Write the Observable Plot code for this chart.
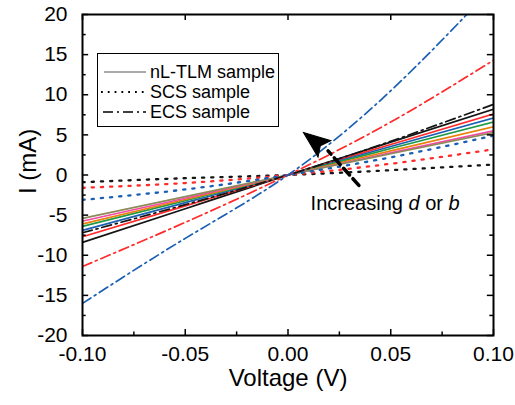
<!DOCTYPE html>
<html><head><meta charset="utf-8">
<script src="https://cdn.jsdelivr.net/npm/d3@7"></script>
<script src="https://cdn.jsdelivr.net/npm/@observablehq/plot@0.6"></script>
<style>
body{margin:0;background:#fff;}
#wrap{position:relative;width:515px;height:405px;font-family:"Liberation Sans",Arial,sans-serif;color:#000;}
#legend{position:absolute;left:97px;top:53px;width:182px;height:74px;border:1px solid #000;background:#fff;box-sizing:border-box;}
#legend .row{position:absolute;left:0;height:20px;display:flex;align-items:center;font-size:18px;white-space:nowrap;}
#legend svg{margin-right:2px;}
</style></head><body><div id="wrap"></div>
<script>
// Voltage sample points (V)
const voltage = [-0.10, -0.05, 0, 0.05, 0.10];
// nL-TLM samples (solid), current in mA
const nlBlack  = [-8.4, -4.2, 0, 4.1, 8.2];
const nlRed    = [-7.7, -3.85, 0, 3.8, 7.6];
const nlBlue   = [-6.9, -3.45, 0, 3.55, 7.1];
const nlGreen  = [-6.4, -3.2, 0, 3.3, 6.6];
const nlOrange = [-6.1, -3.05, 0, 3.0, 6.0];
const nlPink   = [-5.75, -2.9, 0, 2.75, 5.5];
const nlOlive  = [-5.4, -2.7, 0, 2.65, 5.3];
// SCS samples (dotted)
const scsBlack = [-0.9, -0.4, 0, 0.6, 1.3];
const scsRed   = [-1.6, -1.0, 0, 1.4, 3.2];
const scsBlue  = [-3.1, -1.8, 0, 2.2, 4.9];
// ECS samples (dash-dot)
const ecsBlack = [-7.2, -3.7, 0, 4.2, 8.8];
const ecsRed   = [-11.4, -5.9, 0, 6.6, 14.3];
const ecsBlue  = [-16.0, -7.9, 0, 10.5, 23.5];

const xTicks = [-0.10, -0.05, 0, 0.05, 0.10];
const xMinor = [-0.075, -0.025, 0.025, 0.075];
const yTicks = [-20, -15, -10, -5, 0, 5, 10, 15, 20];
const yMinor = [-17.5, -12.5, -7.5, -2.5, 2.5, 7.5, 12.5, 17.5];

const legendLabels = ["nL-TLM sample", "SCS sample", "ECS sample"];
const annotation = "Increasing <i>d</i> or <i>b</i>";
const arrowLine = [{V: 0.0345, I: -1.3}, {V: 0.0195, I: 3.0}];
const arrowHeadPt = [{V: 0.0135, I: 4.1}];

const series = [
  {id: "nlBlack", kind: "solid", color: "#151515", values: nlBlack},
  {id: "nlRed", kind: "solid", color: "#ff2a2a", values: nlRed},
  {id: "nlBlue", kind: "solid", color: "#1a5fb4", values: nlBlue},
  {id: "nlGreen", kind: "solid", color: "#1f9a45", values: nlGreen},
  {id: "nlOrange", kind: "solid", color: "#e8820c", values: nlOrange},
  {id: "nlPink", kind: "solid", color: "#f447a6", values: nlPink},
  {id: "nlOlive", kind: "solid", color: "#8d8a5a", values: nlOlive},
  {id: "scsBlack", kind: "dot", color: "#151515", values: scsBlack},
  {id: "scsRed", kind: "dot", color: "#ff2a2a", values: scsRed},
  {id: "scsBlue", kind: "dot", color: "#1a5fb4", values: scsBlue},
  {id: "ecsBlack", kind: "dashdot", color: "#151515", values: ecsBlack},
  {id: "ecsRed", kind: "dashdot", color: "#ff2a2a", values: ecsRed},
  {id: "ecsBlue", kind: "dashdot", color: "#1a5fb4", values: ecsBlue}
];
const rows = series.flatMap(s => s.values.map((I, k) => ({id: s.id, kind: s.kind, color: s.color, V: voltage[k], I})));
const rowsOf = kind => rows.filter(r => r.kind === kind);

const lineOpts = {x: "V", y: "I", z: "id", stroke: "color", curve: "natural", clip: true};

// barbed arrowhead symbol (tip pointing up before rotation)
const arrowSymbol = {
  draw(context, size) {
    const s = Math.sqrt(size / Math.PI);
    context.moveTo(0, -1.2 * s);
    context.lineTo(0.8 * s, 0.85 * s);
    context.lineTo(0, 0.45 * s);
    context.lineTo(-0.8 * s, 0.85 * s);
    context.closePath();
  }
};

const plot = Plot.plot({
  width: 515, height: 405,
  marginLeft: 82, marginRight: 22, marginTop: 14, marginBottom: 70,
  style: {fontFamily: "Liberation Sans, Arial, sans-serif", background: "#fff", color: "#000"},
  x: {domain: [-0.1, 0.1], label: null},
  y: {domain: [-20, 20], label: null},
  color: {type: "identity"},
  marks: [
    Plot.line(rowsOf("solid"), {...lineOpts, strokeWidth: 1.7}),
    Plot.line(rowsOf("dot"), {...lineOpts, strokeWidth: 2.3, strokeDasharray: "2.2,7"}),
    Plot.line(rowsOf("dashdot"), {...lineOpts, strokeWidth: 1.7, strokeDasharray: "10,4,2,4"}),
    // ticks (inward, mirrored)
    Plot.ruleX(xTicks, {x: d => d, y1: -20, y2: -19.25, stroke: "#000", strokeWidth: 1.5}),
    Plot.ruleX(xMinor, {x: d => d, y1: -20, y2: -19.55, stroke: "#000", strokeWidth: 1.5}),
    Plot.ruleX(xTicks, {x: d => d, y1: 20, y2: 19.25, stroke: "#000", strokeWidth: 1.5}),
    Plot.ruleY(yTicks, {y: d => d, x1: -0.1, x2: -0.097, stroke: "#000", strokeWidth: 1.5}),
    Plot.ruleY(yMinor, {y: d => d, x1: -0.1, x2: -0.0982, stroke: "#000", strokeWidth: 1.5}),
    Plot.ruleY(yTicks, {y: d => d, x1: 0.1, x2: 0.097, stroke: "#000", strokeWidth: 1.5}),
    Plot.ruleY(yMinor, {y: d => d, x1: 0.1, x2: 0.0982, stroke: "#000", strokeWidth: 1.5}),
    Plot.axisX(xTicks, {tickSize: 0, tickPadding: 11, fontSize: 21, tickFormat: d => d.toFixed(2), label: null}),
    Plot.axisY(yTicks, {tickSize: 0, tickPadding: 15, fontSize: 21, tickFormat: d => String(d), label: null}),
    Plot.frame({stroke: "#000", strokeWidth: 2}),
    // arrow annotation
    Plot.line(arrowLine, {x: "V", y: "I", stroke: "#000", strokeWidth: 3.5, strokeDasharray: "9,5"}),
    Plot.dot(arrowHeadPt, {x: "V", y: "I", symbol: arrowSymbol, r: 13, fill: "#000", stroke: "#000", strokeWidth: 1, rotate: -52}),
    // axis titles
    Plot.text(["Voltage (V)"], {frameAnchor: "bottom", dy: 50, fontSize: 24, fill: "#000"}),
    Plot.text(["I (mA)"], {frameAnchor: "left", dx: -54, dy: 19, rotate: -90, fontSize: 24, fill: "#000"})
  ]
});
const wrap = document.getElementById("wrap");
wrap.appendChild(plot);

// annotation text positioned through the plot scales
const ann = document.createElement("div");
const ax = plot.scale("x").apply(0.0475), ay = plot.scale("y").apply(-3.55);
ann.style.cssText = `position:absolute;left:${ax}px;top:${ay}px;transform:translate(-50%,-50%);font-size:20px;white-space:nowrap;`;
ann.innerHTML = annotation;
wrap.appendChild(ann);

// legend
const leg = document.createElement("div");
leg.id = "legend";
const samples = [
  `<line x1="6" y1="10" x2="48" y2="10" stroke="#555" stroke-width="1.2"/>`,
  `<line x1="3" y1="10" x2="48" y2="10" stroke="#000" stroke-width="1.8" stroke-dasharray="1.8,5"/>`,
  `<line x1="5" y1="10" x2="48" y2="10" stroke="#000" stroke-width="1.6" stroke-dasharray="10,4,2,4"/>`
];
legendLabels.forEach((lab, i) => {
  const r = document.createElement("div");
  r.className = "row";
  r.style.top = (8 + i * 20) + "px";
  r.innerHTML = `<svg width="50" height="20">${samples[i]}</svg><span>${lab}</span>`;
  leg.appendChild(r);
});
wrap.appendChild(leg);
</script>
</body></html>
